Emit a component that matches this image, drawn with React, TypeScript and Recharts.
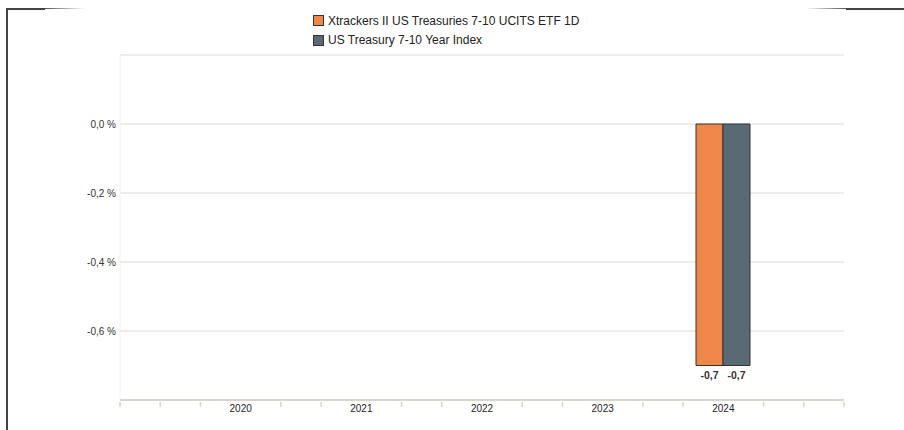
import React from 'react';
import { BarChart, Bar, XAxis, YAxis, CartesianGrid, LabelList, ReferenceLine } from 'recharts';

const years = [2020, 2021, 2022, 2023, 2024];
const etfValues = [null, null, null, null, -0.7];
const indexValues = [null, null, null, null, -0.7];
const seriesNames = ['Xtrackers II US Treasuries 7-10 UCITS ETF 1D', 'US Treasury 7-10 Year Index'];
const seriesColors = ['#EF8748', '#5A6A75'];
const yTicks = [-0.8, -0.6, -0.4, -0.2, 0, 0.2];
const yLabelTicks = [-0.6, -0.4, -0.2, 0];
const xTicks = [
  2019, 2019.3333, 2019.6667, 2020, 2020.3333, 2020.6667, 2021, 2021.3333, 2021.6667,
  2022, 2022.3333, 2022.6667, 2023, 2023.3333, 2023.6667, 2024, 2024.3333, 2024.6667, 2025,
];

const data = years.map((year, i) => ({ year, etf: etfValues[i], index: indexValues[i] }));

const FONT = '"Liberation Sans", Arial, sans-serif';
const fmt = (v: number) => v.toFixed(1).replace('.', ',');

const YTick = (props: any) => {
  const { x, y, payload } = props;
  const v = Math.round(payload.value * 10) / 10;
  if (!yLabelTicks.includes(v)) return null;
  return (
    <text x={x} y={y} textAnchor="end" dominantBaseline="central" fontSize={10} fill="#333" fontFamily={FONT}>
      {`${fmt(v)} %`}
    </text>
  );
};

const XTick = (props: any) => {
  const { x, y, payload } = props;
  const v = payload.value;
  if (years.includes(v)) {
    return (
      <text x={x} y={y + 6} textAnchor="middle" dominantBaseline="central" fontSize={10} fill="#222" fontFamily={FONT}>
        {v}
      </text>
    );
  }
  return <line x1={x} x2={x} y1={y} y2={y + 5} stroke="#d8d5cb" strokeWidth={1.5} />;
};

const BarValue = (props: any) => {
  const { x, y, width, height, value } = props;
  if (value === null || value === undefined) return null;
  const bottom = Math.max(y, y + height);
  return (
    <text x={x + width / 2} y={bottom + 9} textAnchor="middle" dominantBaseline="central" fontSize={10.5} fontWeight="bold" fill="#333" fontFamily={FONT}>
      {fmt(value)}
    </text>
  );
};

export default function App() {
  return (
    <div style={{ position: 'fixed', left: 0, top: 0, width: 904, height: 430, background: '#fff', overflow: 'hidden' }}>
      <div style={{ position: 'absolute', left: 0, top: 0 }}>
        <BarChart
          width={904}
          height={430}
          data={data}
          margin={{ top: 55, right: 60, bottom: 0, left: 0 }}
          barGap={0}
        >
          <CartesianGrid vertical={false} stroke="#dcdad3" />
          <ReferenceLine x={2019} stroke="#f2f2f2" />
          <XAxis
            dataKey="year"
            type="number"
            domain={[2019, 2025]}
            ticks={xTicks}
            interval={0}
            tick={<XTick />}
            tickLine={false}
            tickSize={0}
            height={30}
            axisLine={{ stroke: '#d8d5cb', strokeWidth: 2 }}
            allowDecimals
          />
          <YAxis
            type="number"
            domain={[-0.8, 0.2]}
            ticks={yTicks}
            interval={0}
            tick={<YTick />}
            tickLine={false}
            axisLine={false}
            tickSize={0}
            tickMargin={4}
            width={120}
          />
          <Bar dataKey="etf" name={seriesNames[0]} fill={seriesColors[0]} stroke="#333" strokeWidth={1} barSize={27} isAnimationActive={false}>
            <LabelList dataKey="etf" content={<BarValue />} />
          </Bar>
          <Bar dataKey="index" name={seriesNames[1]} fill={seriesColors[1]} stroke="#333" strokeWidth={1} barSize={27} isAnimationActive={false}>
            <LabelList dataKey="index" content={<BarValue />} />
          </Bar>
        </BarChart>
      </div>

      {/* legend */}
      <div style={{ position: 'absolute', left: 313, top: 11, fontFamily: FONT, fontSize: 12, color: '#222' }}>
        {seriesNames.map((name, i) => (
          <div key={name} style={{ display: 'flex', alignItems: 'center', height: 19.5 }}>
            <span style={{ display: 'inline-block', width: 9, height: 9, background: seriesColors[i], border: '1px solid #333', marginRight: 4 }} />
            <span>{name}</span>
          </div>
        ))}
      </div>

      {/* frame */}
      <div style={{ position: 'absolute', left: 6, top: 8, width: 2, height: 422, background: '#444', zIndex: 5 }} />
      <div style={{ position: 'absolute', left: 6, top: 8, width: 39, height: 2, background: '#444', zIndex: 5 }} />
      <div
        style={{
          position: 'absolute', left: 45, top: 8, width: 801, height: 1, zIndex: 5,
          background: 'linear-gradient(to right, #555 0px, rgba(255,255,255,0) 40px, rgba(255,255,255,0) 761px, #555 801px)',
        }}
      />
      <div style={{ position: 'absolute', left: 846, top: 8, width: 58, height: 2, background: '#444', zIndex: 5 }} />
    </div>
  );
}
